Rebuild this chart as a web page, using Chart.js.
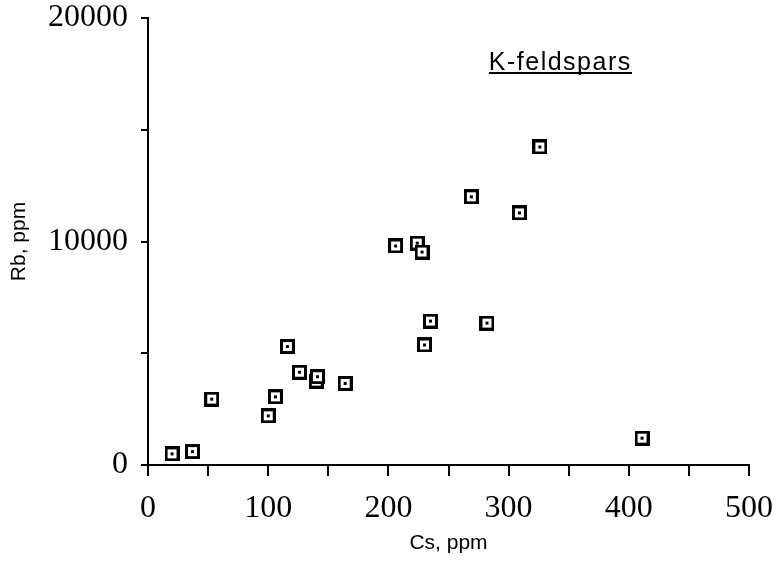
<!DOCTYPE html>
<html>
<head>
<meta charset="utf-8">
<script src="https://cdn.jsdelivr.net/npm/chart.js@4.4.1/dist/chart.umd.min.js"></script>
<style>
  html, body { margin: 0; padding: 0; background: #ffffff; }
  #wrap { width: 777px; height: 561px; }
</style>
</head>
<body>
<div id="wrap"><canvas id="chart" width="777" height="561"></canvas></div>
<script>
// ---- data ----
const csPpm = [20, 37, 53, 100, 106, 116, 126, 140, 141, 164, 206, 224, 228, 230, 235, 269, 282, 309, 326, 411];
const rbPpm = [500, 600, 2950, 2200, 3050, 5300, 4150, 3750, 3950, 3650, 9800, 9930, 9530, 5370, 6440, 12000, 6350, 11280, 14230, 1200];
const xTickLabels = [0, 100, 200, 300, 400, 500];
const yTickLabels = [0, 10000, 20000];
const xTitle = 'Cs, ppm';
const yTitle = 'Rb, ppm';
const groupLabel = 'K-feldspars';

// marker: hollow square with a centre dot
function makeMarker() {
  const c = document.createElement('canvas');
  c.width = 15; c.height = 15;
  const g = c.getContext('2d');
  g.fillStyle = '#000';
  g.fillRect(0, 0, 15, 15);
  g.fillStyle = '#fff';
  g.fillRect(3, 3, 9, 9);
  g.fillStyle = '#000';
  g.fillRect(6, 6, 3, 3);
  return c;
}

const labelPlugin = {
  id: 'groupLabel',
  afterDraw(chart, args, opts) {
    const { ctx, scales: { x, y } } = chart;
    const px = x.getPixelForValue(opts.x);
    const py = y.getPixelForValue(opts.y);
    ctx.save();
    ctx.font = '25px "Liberation Sans", Arial, sans-serif';
    try { ctx.letterSpacing = '1.5px'; } catch (e) {}
    ctx.fillStyle = '#000';
    ctx.textAlign = 'center';
    ctx.textBaseline = 'alphabetic';
    ctx.fillText(opts.text, px, py);
    const w = ctx.measureText(opts.text).width;
    ctx.fillRect(Math.round(px - w / 2), Math.round(py + 2), Math.round(w), 2);
    ctx.restore();
  }
};

const points = csPpm.map((v, i) => ({ x: v, y: rbPpm[i] }));
const serif = "'Liberation Serif', 'Times New Roman', serif";
const sans = "'Liberation Sans', Arial, sans-serif";

new Chart(document.getElementById('chart'), {
  type: 'scatter',
  data: {
    datasets: [{
      label: groupLabel,
      data: points,
      pointStyle: makeMarker(),
      pointRadius: 7,
      pointHoverRadius: 7
    }]
  },
  plugins: [labelPlugin],
  options: {
    responsive: false,
    devicePixelRatio: 1,
    animation: false,
    layout: { padding: { top: 18, right: 28, bottom: 0, left: 0 } },
    plugins: {
      legend: { display: false },
      tooltip: { enabled: false },
      groupLabel: { text: groupLabel, x: 343, y: 17670 }
    },
    scales: {
      x: {
        type: 'linear',
        min: 0, max: 500,
        border: { display: true, color: '#000', width: 2 },
        grid: { display: true, drawOnChartArea: false, drawTicks: true, tickLength: 11, color: '#000', lineWidth: 2 },
        ticks: {
          stepSize: 50, autoSkip: false, maxRotation: 0, color: '#000', padding: 13,
          font: { family: serif, size: 32 },
          callback: v => xTickLabels.includes(v) ? String(v) : ''
        },
        title: { display: true, text: xTitle, color: '#000', font: { family: sans, size: 21 }, padding: { top: 0, bottom: 5 } },
        afterFit: s => { s.height = 96; s.paddingLeft = 0; s.paddingRight = 0; }
      },
      y: {
        type: 'linear',
        min: 0, max: 20000,
        border: { display: true, color: '#000', width: 2 },
        grid: { display: true, drawOnChartArea: false, drawTicks: true, tickLength: 7, color: '#000', lineWidth: 2 },
        ticks: {
          stepSize: 5000, autoSkip: false, color: '#000', padding: 13,
          font: { family: serif, size: 32 },
          callback: v => yTickLabels.includes(v) ? String(v) : ''
        },
        title: { display: true, text: yTitle, color: '#000', font: { family: sans, size: 21 }, padding: { top: 7, bottom: 0 } },
        afterFit: s => { s.width = 148; s.paddingTop = 0; s.paddingBottom = 0; }
      }
    }
  }
});
</script>
</body>
</html>
